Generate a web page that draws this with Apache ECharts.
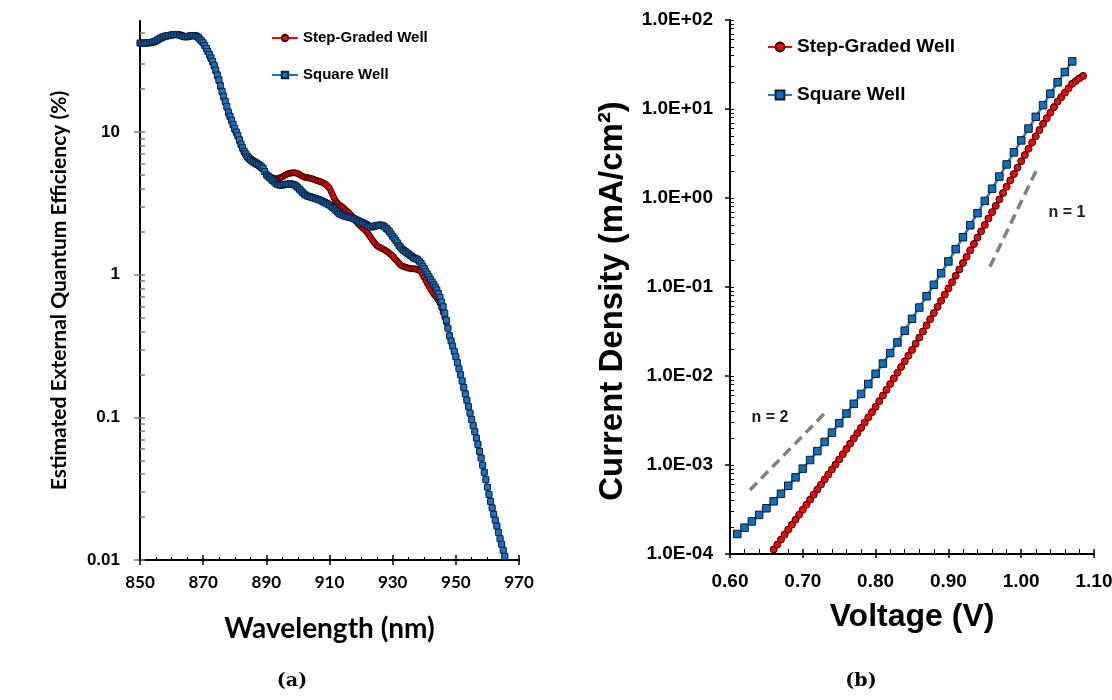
<!DOCTYPE html>
<html>
<head>
<meta charset="utf-8">
<script src="https://cdn.jsdelivr.net/npm/echarts@6/dist/echarts.min.js"></script>
<style>html,body{margin:0;padding:0;background:#fff}#chart{width:1112px;height:700px}</style>
</head>
<body>
<div id="chart"></div>
<script>
// ---------- Panel (a): estimated EQE vs wavelength ----------
const wavelengthNm = [
850,850.5,851,851.5,852,852.5,853,853.5,854,854.5,
855,855.5,856,856.5,857,857.5,858,858.5,859,859.5,
860,860.5,861,861.5,862,862.5,863,863.5,864,864.5,
865,865.5,866,866.5,867,867.5,868,868.5,869,869.5,
870,870.5,871,871.5,872,872.5,873,873.5,874,874.5,
875,875.5,876,876.5,877,877.5,878,878.5,879,879.5,
880,880.5,881,881.5,882,882.5,883,883.5,884,884.5,
885,885.5,886,886.5,887,887.5,888,888.5,889,889.5,
890,890.5,891,891.5,892,892.5,893,893.5,894,894.5,
895,895.5,896,896.5,897,897.5,898,898.5,899,899.5,
900,900.5,901,901.5,902,902.5,903,903.5,904,904.5,
905,905.5,906,906.5,907,907.5,908,908.5,909,909.5,
910,910.5,911,911.5,912,912.5,913,913.5,914,914.5,
915,915.5,916,916.5,917,917.5,918,918.5,919,919.5,
920,920.5,921,921.5,922,922.5,923,923.5,924,924.5,
925,925.5,926,926.5,927,927.5,928,928.5,929,929.5,
930,930.5,931,931.5,932,932.5,933,933.5,934,934.5,
935,935.5,936,936.5,937,937.5,938,938.5,939,939.5,
940,940.5,941,941.5,942,942.5,943,943.5,944,944.5,
945,945.5,946,946.5,947,947.5,948,948.5,949,949.5,
950,950.5,951,951.5,952,952.5,953,953.5,954,954.5,
955,955.5,956,956.5,957,957.5,958,958.5,959,959.5,
960,960.5,961,961.5,962,962.5,963,963.5,964,964.5,
965,965.5];

const eqeSquareWell = [
42.0,42.0,42.0,42.0,42.1,42.2,42.2,42.4,42.7,43.0,
43.5,44.2,44.9,45.5,46.1,46.6,47.0,47.2,47.4,47.6,
47.9,48.1,48.3,48.3,48.1,47.9,47.5,47.0,46.6,46.5,
46.6,46.9,47.2,47.4,47.5,47.3,46.8,45.9,44.7,43.5,
42.2,40.4,38.5,36.7,34.9,33.1,31.3,29.3,27.2,25.1,
23.2,21.1,19.3,17.8,16.4,15.1,13.8,12.9,12.1,11.3,
10.6,10.0,9.44,8.81,8.22,7.76,7.33,7.03,6.76,6.58,
6.43,6.31,6.21,6.12,6.03,5.93,5.82,5.70,5.56,5.28,
5.01,4.90,4.79,4.68,4.57,4.47,4.37,4.30,4.25,4.24,
4.25,4.27,4.29,4.31,4.32,4.33,4.32,4.29,4.25,4.17,
4.07,3.97,3.87,3.77,3.67,3.61,3.56,3.53,3.51,3.48,
3.45,3.42,3.39,3.36,3.33,3.29,3.25,3.21,3.16,3.12,
3.08,3.02,2.96,2.90,2.83,2.76,2.69,2.65,2.62,2.59,
2.57,2.55,2.54,2.52,2.50,2.48,2.45,2.42,2.39,2.36,
2.33,2.31,2.28,2.25,2.21,2.18,2.16,2.16,2.18,2.20,
2.21,2.22,2.23,2.22,2.20,2.16,2.11,2.06,2.00,1.93,
1.86,1.80,1.74,1.67,1.60,1.56,1.51,1.48,1.45,1.42,
1.40,1.37,1.35,1.32,1.30,1.29,1.27,1.24,1.20,1.15,
1.10,1.05,1.01,0.966,0.923,0.887,0.851,0.817,0.782,0.738,
0.692,0.643,0.596,0.537,0.479,0.422,0.372,0.343,0.316,0.290,
0.266,0.242,0.219,0.199,0.180,0.162,0.146,0.132,0.119,0.107,
0.0966,0.0875,0.0794,0.0716,0.0646,0.0578,0.0519,0.0462,0.0412,0.0366,
0.0324,0.0288,0.0257,0.0232,0.0209,0.0190,0.0173,0.0156,0.0141,0.0129,
0.0117,0.0106];

const eqeStepGraded = [
42.0,42.0,42.0,42.0,42.1,42.2,42.2,42.4,42.7,43.0,
43.5,44.2,44.9,45.5,46.1,46.6,47.0,47.2,47.4,47.6,
47.9,48.1,48.3,48.3,48.1,47.9,47.5,47.0,46.6,46.5,
46.6,46.9,47.2,47.4,47.5,47.3,46.8,45.9,44.7,43.5,
42.2,40.4,38.5,36.7,34.0,32.2,30.5,28.5,26.5,24.4,
22.6,20.5,18.8,17.3,16.0,14.7,13.4,12.6,11.8,11.0,
10.3,9.73,9.19,8.57,8.00,7.55,7.13,6.84,6.58,6.40,
6.26,6.14,6.04,5.95,5.87,5.77,5.66,5.55,5.41,5.31,
5.07,4.98,4.90,4.83,4.76,4.72,4.70,4.71,4.74,4.79,
4.84,4.92,4.99,5.05,5.11,5.14,5.16,5.18,5.18,5.15,
5.11,5.04,4.95,4.89,4.83,4.81,4.79,4.76,4.74,4.70,
4.66,4.61,4.57,4.53,4.49,4.45,4.40,4.34,4.27,4.15,
4.03,3.83,3.63,3.44,3.27,3.18,3.09,3.03,2.99,2.92,
2.85,2.79,2.72,2.65,2.58,2.50,2.43,2.36,2.29,2.23,
2.18,2.13,2.08,2.03,1.97,1.90,1.83,1.76,1.70,1.65,
1.60,1.57,1.55,1.53,1.51,1.49,1.46,1.44,1.41,1.38,
1.35,1.31,1.27,1.24,1.20,1.17,1.15,1.14,1.13,1.12,
1.11,1.11,1.10,1.10,1.10,1.09,1.08,1.07,1.05,1.00,
0.955,0.910,0.867,0.830,0.794,0.762,0.733,0.711,0.689,0.661,
0.631,0.586,0.543,0.501,0.462,0.425,0.378,0.343,0.316,0.290,
0.266,0.242,0.219,0.199,0.180,0.162,0.146,0.132,0.119,0.107,
0.0966,0.0875,0.0794,0.0716,0.0646,0.0578,0.0519,0.0462,0.0412,0.0366,
0.0324,0.0288,0.0257,0.0232,0.0209,0.0190,0.0173,0.0156,0.0141,0.0129,
0.0117,0.0106];

const eqeMajorTicks = [0.01, 0.1, 1, 10];
const eqeMinorTicks = [0.02,0.03,0.04,0.05,0.06,0.07,0.08,0.09,
  0.2,0.3,0.4,0.5,0.6,0.7,0.8,0.9, 2,3,4,5,6,7,8,9, 20,30,40,50];

// ---------- Panel (b): J-V ----------
const voltageSquare = [0.61,0.62,0.63,0.64,0.65,0.66,0.67,0.68,0.69,0.70,
  0.71,0.72,0.73,0.74,0.75,0.76,0.77,0.78,0.79,0.80,
  0.81,0.82,0.83,0.84,0.85,0.86,0.87,0.88,0.89,0.90,
  0.91,0.92,0.93,0.94,0.95,0.96,0.97,0.98,0.99,1.00,
  1.01,1.02,1.03,1.04,1.05,1.06,1.07];
const jSquareWell = [1.679e-4,1.977e-4,2.323e-4,2.748e-4,3.266e-4,3.908e-4,4.753e-4,5.848e-4,7.261e-4,9.099e-4,
  1.138e-3,1.432e-3,1.816e-3,2.312e-3,2.951e-3,3.784e-3,4.875e-3,6.281e-3,8.128e-3,1.057e-2,
  1.380e-2,1.811e-2,2.382e-2,3.228e-2,4.395e-2,5.875e-2,7.870e-2,0.1059,0.1429,0.1936,
  0.2661,0.3622,0.4943,0.6761,0.9268,1.271,1.742,2.382,3.258,4.436,
  6.026,8.166,11.04,14.86,19.95,26.00,34.28];

const voltageStep = [0.660,0.665,0.670,0.675,0.680,0.685,0.690,0.695,0.700,
  0.705,0.710,0.715,0.720,0.725,0.730,0.735,0.740,0.745,0.750,
  0.755,0.760,0.765,0.770,0.775,0.780,0.785,0.790,0.795,0.800,
  0.805,0.810,0.815,0.820,0.825,0.830,0.835,0.840,0.845,0.850,
  0.855,0.860,0.865,0.870,0.875,0.880,0.885,0.890,0.895,0.900,
  0.905,0.910,0.915,0.920,0.925,0.930,0.935,0.940,0.945,0.950,
  0.955,0.960,0.965,0.970,0.975,0.980,0.985,0.990,0.995,1.000,
  1.005,1.010,1.015,1.020,1.025,1.030,1.035,1.040,1.045,1.050,
  1.055,1.060,1.065,1.070,1.075,1.080,1.085];
const jStepGraded = [1.122e-4,1.276e-4,1.452e-4,1.652e-4,1.879e-4,2.138e-4,2.432e-4,2.767e-4,3.148e-4,
  3.581e-4,4.083e-4,4.645e-4,5.297e-4,6.026e-4,6.871e-4,7.816e-4,8.913e-4,1.014e-3,1.156e-3,
  1.324e-3,1.517e-3,1.738e-3,1.991e-3,2.280e-3,2.612e-3,2.992e-3,3.428e-3,3.926e-3,4.498e-3,
  5.212e-3,6.039e-3,6.998e-3,8.110e-3,9.397e-3,1.089e-2,1.262e-2,1.462e-2,1.694e-2,1.963e-2,
  2.301e-2,2.698e-2,3.162e-2,3.707e-2,4.345e-2,5.093e-2,5.970e-2,6.998e-2,8.204e-2,9.616e-2,
  0.1132,0.1337,0.1574,0.1858,0.2188,0.2582,0.3041,0.3589,0.4227,0.4989,
  0.5875,0.6934,0.8166,0.9638,1.135,1.340,1.578,1.862,2.193,2.588,
  3.041,3.573,4.198,4.932,5.794,6.808,7.870,9.078,10.50,12.11,
  13.58,15.24,17.10,19.19,20.65,22.13,23.55];

// ideality guide lines (V, J) and their labels
const guideN2 = [[0.6275, 5.24e-4], [0.729, 3.74e-3]];
const guideN1 = [[0.957, 0.169], [1.023, 2.23]];
const guideLabels = [
  { name: 'n = 2', value: [0.655, 3.42e-3] },
  { name: 'n = 1', value: [1.063, 0.678] }
];

const jMajorTicks = [1e-4, 1e-3, 1e-2, 1e-1, 1, 10, 100];
const jMinorTicks = [];
[1e-4, 1e-3, 1e-2, 1e-1, 1, 10].forEach(function (d) {
  [2,3,4,5,6,7,8,9].forEach(function (m) { jMinorTicks.push(+(m * d).toPrecision(3)); });
});

const seriesNames = ['Step-Graded Well', 'Square Well'];

// ---------- build ----------
function zip(xs, ys) { return xs.map(function (x, i) { return [x, ys[i]]; }); }

const ARIAL = '"Liberation Sans", Arial, sans-serif';
const CALIBRI = 'Lato, "Open Sans", sans-serif';
const RED = '#FF0000', BLUE = '#1874C4';

const chart = echarts.init(document.getElementById('chart'), null, { renderer: 'canvas' });

const option = {
  animation: false,
  backgroundColor: '#ffffff',
  grid: [
    { left: 140, top: 21, width: 379, height: 539, containLabel: false, outerBoundsMode: 'none' },
    { left: 730, top: 20, width: 364, height: 534, containLabel: false, outerBoundsMode: 'none' }
  ],
  xAxis: [
    { // (a) main
      type: 'value', gridIndex: 0, min: 850, max: 970, interval: 20, position: 'bottom',
      name: 'Wavelength (nm)', nameLocation: 'middle', nameGap: 55,
      nameTextStyle: { fontFamily: CALIBRI, fontWeight: 'bold', fontSize: 28, color: '#000' },
      axisLine: { show: true, lineStyle: { color: '#000', width: 2 } },
      axisTick: { show: true, inside: false, length: 5, lineStyle: { color: '#000', width: 1.5 } },
      axisLabel: { show: true, margin: 14, fontFamily: CALIBRI, fontWeight: 'bold', fontSize: 17, color: '#000', showMinLabel: true, showMaxLabel: true },
      splitLine: { show: false }
    },
    { // (a) inside ticks
      type: 'value', gridIndex: 0, min: 850, max: 970, interval: 20, position: 'bottom',
      axisLine: { show: false },
      axisTick: { show: true, inside: true, length: 5, lineStyle: { color: '#000', width: 1.5 } },
      minorTick: { show: true, splitNumber: 4, length: 3, lineStyle: { color: '#000', width: 1 } },
      axisLabel: { show: false }, splitLine: { show: false }
    },
    { // (b) main
      type: 'value', gridIndex: 1, min: 0.6, max: 1.1, interval: 0.1, position: 'bottom',
      name: 'Voltage (V)', nameLocation: 'middle', nameGap: 47,
      nameTextStyle: { fontFamily: ARIAL, fontWeight: 'bold', fontSize: 32, color: '#000' },
      axisLine: { show: true, lineStyle: { color: '#000', width: 2 } },
      axisTick: { show: true, inside: false, length: 4, lineStyle: { color: '#000', width: 1.5 } },
      axisLabel: { show: true, margin: 18, fontFamily: ARIAL, fontWeight: 'bold', fontSize: 19, color: '#000',
        showMinLabel: true, showMaxLabel: true, formatter: function (v) { return v.toFixed(2); } },
      splitLine: { show: false }
    },
    { // (b) inside ticks
      type: 'value', gridIndex: 1, min: 0.6, max: 1.1, interval: 0.1, position: 'bottom',
      axisLine: { show: false },
      axisTick: { show: true, inside: true, length: 5, lineStyle: { color: '#000', width: 1.5 } },
      minorTick: { show: true, splitNumber: 5, length: 5, lineStyle: { color: '#000', width: 1 } },
      axisLabel: { show: false }, splitLine: { show: false }
    }
  ],
  yAxis: [
    { // (a) main
      type: 'log', logBase: 10, gridIndex: 0, min: 0.01, max: 60, position: 'left',
      name: 'Estimated External Quantum Efficiency (%)', nameLocation: 'middle', nameGap: 70,
      nameTextStyle: { fontFamily: CALIBRI, fontWeight: 'bold', fontSize: 21, color: '#000' },
      axisLine: { show: true, lineStyle: { color: '#000', width: 2 } },
      axisTick: { show: true, inside: false, length: 6, customValues: eqeMajorTicks, lineStyle: { color: '#808080', width: 1.5 } },
      axisLabel: { show: true, margin: 20, customValues: eqeMajorTicks, fontFamily: ARIAL, fontWeight: 'bold', fontSize: 17, color: '#000',
        formatter: function (v) { return String(+(+v).toPrecision(2)); } },
      splitLine: { show: false }
    },
    { // (a) inside ticks
      type: 'log', logBase: 10, gridIndex: 0, min: 0.01, max: 60, position: 'left',
      axisLine: { show: false },
      axisTick: { show: true, inside: true, length: 5, customValues: eqeMajorTicks.concat(eqeMinorTicks), lineStyle: { color: '#808080', width: 1.5 } },
      axisLabel: { show: false }, splitLine: { show: false }
    },
    { // (b) main
      type: 'log', logBase: 10, gridIndex: 1, min: 1e-4, max: 100, position: 'left',
      name: 'Current Density (mA/cm\u00B2)', nameLocation: 'middle', nameGap: 101,
      nameTextStyle: { fontFamily: ARIAL, fontWeight: 'bold', fontSize: 33, color: '#000', padding: [0, 28, 0, 0] },
      axisLine: { show: true, lineStyle: { color: '#000', width: 2 } },
      axisTick: { show: true, inside: false, length: 5, customValues: jMajorTicks, lineStyle: { color: '#000', width: 1.5 } },
      axisLabel: { show: true, margin: 17, customValues: jMajorTicks, fontFamily: ARIAL, fontWeight: 'bold', fontSize: 19, color: '#000',
        formatter: function (v) {
          const e = Math.round(Math.log10(v));
          return '1.0E' + (e < 0 ? '-' : '+') + String(Math.abs(e)).padStart(2, '0');
        } },
      splitLine: { show: false }
    },
    { // (b) inside ticks
      type: 'log', logBase: 10, gridIndex: 1, min: 1e-4, max: 100, position: 'left',
      axisLine: { show: false },
      axisTick: { show: true, inside: true, length: 4, customValues: jMajorTicks.concat(jMinorTicks), lineStyle: { color: '#000', width: 1 } },
      axisLabel: { show: false }, splitLine: { show: false }
    }
  ],
  legend: [
    {
      data: [seriesNames[0], seriesNames[1]], orient: 'vertical', left: 271, top: 30, padding: 0,
      itemWidth: 26, itemHeight: 8, itemGap: 21, selectedMode: false,
      textStyle: { fontFamily: ARIAL, fontWeight: 'bold', fontSize: 15, color: '#000', lineHeight: 16 }
    },
    {
      data: [seriesNames[0] + ' (b)', seriesNames[1] + ' (b)'], orient: 'vertical', left: 767, top: 37, padding: 0,
      itemWidth: 24, itemHeight: 11, itemGap: 28, selectedMode: false,
      formatter: function (n) { return n.replace(' (b)', ''); },
      textStyle: { fontFamily: ARIAL, fontWeight: 'bold', fontSize: 19, color: '#000', lineHeight: 20 }
    }
  ],
  series: [
    {
      name: seriesNames[0], type: 'line', xAxisIndex: 0, yAxisIndex: 0,
      data: zip(wavelengthNm, eqeStepGraded),
      symbol: 'circle', symbolSize: 6, showAllSymbol: true,
      lineStyle: { color: RED, width: 2 },
      itemStyle: { color: RED, borderColor: '#400000', borderWidth: 1 }, z: 3
    },
    {
      name: seriesNames[1], type: 'line', xAxisIndex: 0, yAxisIndex: 0,
      data: zip(wavelengthNm, eqeSquareWell),
      symbol: 'rect', symbolSize: 6, showAllSymbol: true,
      lineStyle: { color: BLUE, width: 2 },
      itemStyle: { color: BLUE, borderColor: '#0a2340', borderWidth: 1 }, z: 4
    },
    {
      name: seriesNames[0] + ' (b)', type: 'line', xAxisIndex: 2, yAxisIndex: 2,
      data: zip(voltageStep, jStepGraded),
      symbol: 'circle', symbolSize: 7, showAllSymbol: true,
      lineStyle: { color: RED, width: 2 },
      itemStyle: { color: RED, borderColor: '#200000', borderWidth: 1 }, z: 3
    },
    {
      name: seriesNames[1] + ' (b)', type: 'line', xAxisIndex: 2, yAxisIndex: 2,
      data: zip(voltageSquare, jSquareWell),
      symbol: 'rect', symbolSize: 7.5, showAllSymbol: true,
      lineStyle: { color: '#1C7ACB', width: 2.5 },
      itemStyle: { color: '#0F6FBF', borderColor: '#0a1a2a', borderWidth: 1 }, z: 4
    },
    {
      name: 'guide n2', type: 'line', xAxisIndex: 2, yAxisIndex: 2, data: guideN2,
      symbol: 'none', silent: true, lineStyle: { color: '#808080', width: 3.5, type: [10, 6] }, z: 2
    },
    {
      name: 'guide n1', type: 'line', xAxisIndex: 2, yAxisIndex: 2, data: guideN1,
      symbol: 'none', silent: true, lineStyle: { color: '#808080', width: 3.5, type: [10, 6] }, z: 2
    },
    {
      name: 'guide labels', type: 'scatter', xAxisIndex: 2, yAxisIndex: 2, data: guideLabels,
      symbol: 'circle', symbolSize: 2, itemStyle: { color: 'rgba(255,255,255,0)' }, silent: true, z: 5,
      label: { show: true, position: 'inside', opacity: 1, formatter: function (p) { return p.name; },
        fontFamily: ARIAL, fontWeight: 'bold', fontSize: 16, color: '#1a1a1a' },
      labelLayout: { hideOverlap: false }
    }
  ],
  graphic: [
    { type: 'text', style: { text: '(a)', x: 292, y: 681, align: 'center', verticalAlign: 'middle',
      fontFamily: '"DejaVu Serif", "Liberation Serif", serif', fontWeight: 'bold', fontSize: 19, fill: '#000' } },
    { type: 'text', style: { text: '(b)', x: 861, y: 681, align: 'center', verticalAlign: 'middle',
      fontFamily: '"DejaVu Serif", "Liberation Serif", serif', fontWeight: 'bold', fontSize: 19, fill: '#000' } }
  ]
};
chart.setOption(option);
</script>
</body>
</html>
